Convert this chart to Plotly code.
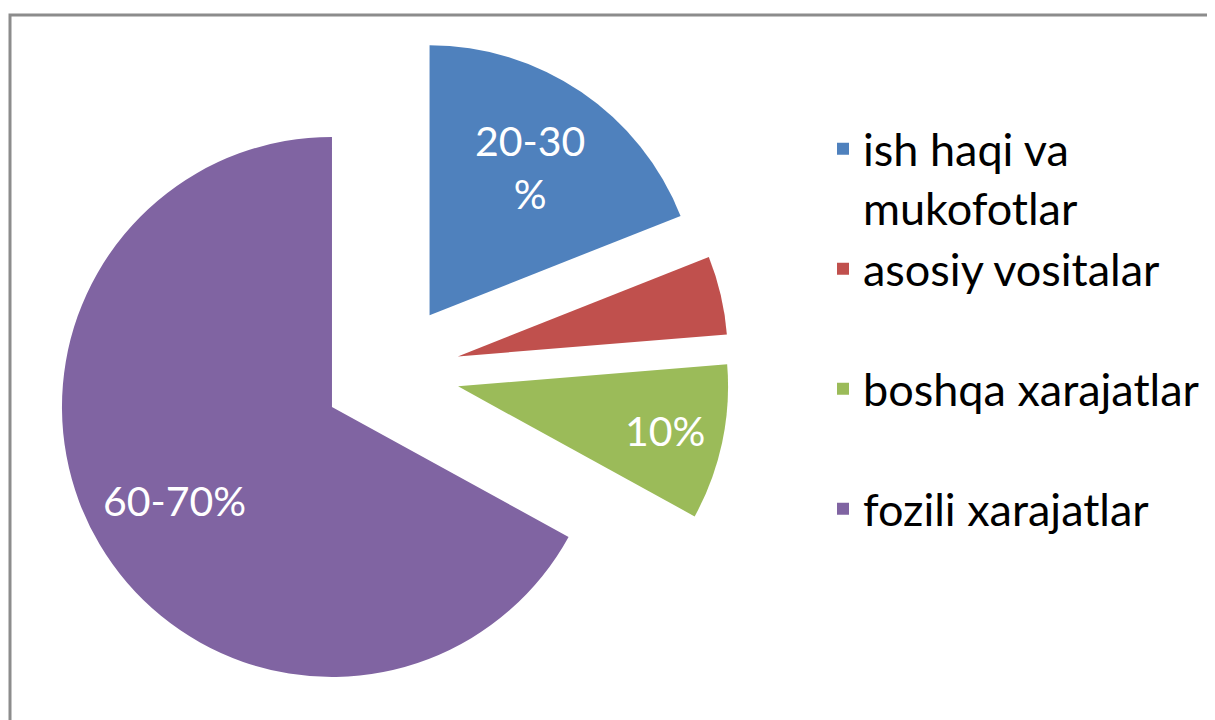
import math
import plotly.graph_objects as go

# Data
categories = ["ish haqi va<br>mukofotlar", "asosiy vositalar", "boshqa xarajatlar", "fozili xarajatlar"]
values = [19.0, 4.7, 9.3, 67.0]
slice_labels = ["20-30<br>%", "", "10%", "60-70%"]
colors = ["#4F81BD", "#C0504D", "#9BBB59", "#8064A2"]

# pad legend entries so they are spread out like the original
legend_names = [c if "<br>" in c else c + "<br> " for c in categories]

W, H = 1215, 720
PULL = 0.254
# pie geometry in pixels (page has an 8px body margin, already accounted for)
CX, CY, R = 383.0, 364.0, 270.0
half = R * (1 + PULL)
bx0, bx1 = CX - half, CX + half
by0, by1 = CY - half, CY + half

# radial position of each data label, as a fraction of the radius from the slice apex
label_frac = [0.665, 0.0, 0.785, 0.678]

fig = go.Figure(
    go.Pie(
        labels=legend_names,
        values=values,
        textinfo="none",
        marker=dict(colors=colors, line=dict(width=0)),
        pull=[PULL] * 4,
        sort=False,
        direction="clockwise",
        rotation=0,
        domain=dict(x=[bx0 / W, bx1 / W], y=[1 - by1 / H, 1 - by0 / H]),
        hoverinfo="label+percent",
    )
)

total = sum(values)
cum = 0.0
for v, lab, frac in zip(values, slice_labels, label_frac):
    mid = 2 * math.pi * (cum + v / 2) / total
    cum += v
    if not lab:
        continue
    dist = (PULL + frac) * R
    lx = CX + dist * math.sin(mid)
    ly = CY - dist * math.cos(mid)
    fig.add_annotation(
        x=lx / W,
        y=1 - ly / H,
        xref="paper",
        yref="paper",
        text=lab,
        showarrow=False,
        font=dict(family="Lato", size=41, color="white"),
        xanchor="center",
        yanchor="middle",
        align="center",
    )

fig.update_layout(
    width=W,
    height=H,
    margin=dict(l=0, r=0, t=0, b=0),
    paper_bgcolor="white",
    plot_bgcolor="white",
    font=dict(family="Lato", color="black"),
    showlegend=True,
    legend=dict(
        x=815 / W,
        y=1 - 105 / H,
        xanchor="left",
        yanchor="top",
        font=dict(family="Lato", size=45, color="black"),
        valign="top",
        bgcolor="rgba(0,0,0,0)",
    ),
    shapes=[
        dict(
            type="rect",
            xref="paper",
            yref="paper",
            x0=2 / W,
            x1=1.05,
            y0=-0.05,
            y1=1 - 7 / H,
            line=dict(color="#8C8C8C", width=3),
            fillcolor="rgba(0,0,0,0)",
            layer="below",
        )
    ],
)

fig.write_html("out.html")
